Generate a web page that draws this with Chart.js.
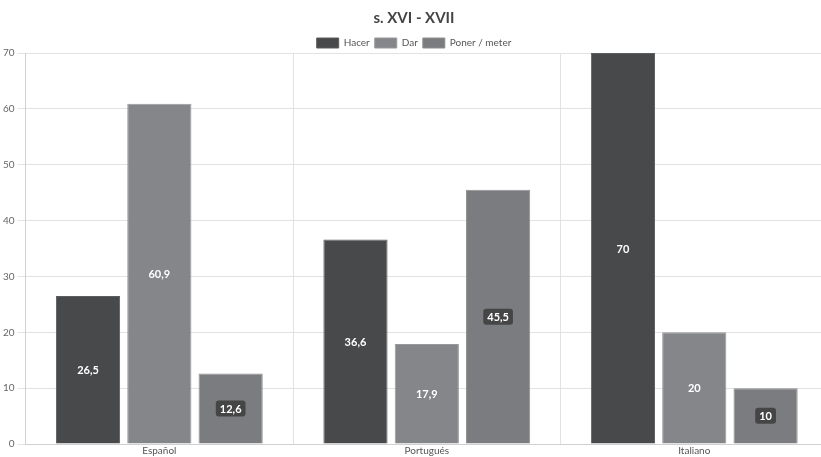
<!DOCTYPE html>
<html>
<head>
<meta charset="utf-8">
<script src="https://cdn.jsdelivr.net/npm/chart.js@4"></script>
<style>
    html, body { margin: 0; padding: 0; background: #fff; overflow: hidden; }
    #wrap { width: 828px; height: 457px; position: relative; }
</style>
</head>
<body>
<div id="wrap"><canvas id="chart"></canvas></div>
<script>
// Chart data
const categories = ['Español', 'Portugués', 'Italiano'];
const hacer = [26.5, 36.6, 70];
const dar = [60.9, 17.9, 20];
const ponerMeter = [12.6, 45.5, 10];
const seriesNames = ['Hacer', 'Dar', 'Poner / meter'];

Chart.defaults.font.family = "Lato, 'Open Sans', sans-serif";
Chart.defaults.color = '#666';

// Tighten the space under the legend
const legendGap = {
    id: 'legendGap',
    beforeInit(chart) {
        const origFit = chart.legend.fit;
        chart.legend.fit = function() {
            origFit.bind(chart.legend)();
            this.height -= 5;
        };
    }
};

// Draws value labels in the middle of each bar (comma decimal)
const barLabels = {
    id: 'barLabels',
    afterDatasetsDraw(chart) {
        const ctx = chart.ctx;
        ctx.save();
        ctx.font = "bold 11px Lato, sans-serif";
        ctx.textAlign = 'center';
        ctx.textBaseline = 'middle';
        chart.data.datasets.forEach((ds, i) => {
            const meta = chart.getDatasetMeta(i);
            meta.data.forEach((bar, j) => {
                const text = String(ds.data[j]).replace('.', ',');
                const y = (bar.y + bar.base) / 2;
                if (ds.labelBox) {
                    const w = ctx.measureText(text).width + 8;
                    const h = 16;
                    ctx.fillStyle = 'rgba(60,60,60,0.85)';
                    ctx.beginPath();
                    ctx.roundRect(bar.x - w / 2, y - h / 2, w, h, 3);
                    ctx.fill();
                }
                ctx.fillStyle = '#fff';
                ctx.fillText(text, bar.x, y + 1);
            });
        });
        ctx.restore();
    }
};

new Chart(document.getElementById('chart'), {
    type: 'bar',
    data: {
        labels: categories,
        datasets: [
            {
                label: seriesNames[0],
                data: hacer,
                backgroundColor: '#48494b',
                borderColor: '#5c5d5f',
                borderWidth: 1
            },
            {
                label: seriesNames[1],
                data: dar,
                backgroundColor: '#858689',
                borderColor: '#97989a',
                borderWidth: 1
            },
            {
                label: seriesNames[2],
                data: ponerMeter,
                backgroundColor: '#7b7c7f',
                borderColor: '#8e8f91',
                borderWidth: 1,
                labelBox: true
            }
        ]
    },
    options: {
        responsive: true,
        maintainAspectRatio: false,
        animation: false,
        layout: { padding: { left: 0, right: 0, top: 0, bottom: 0 } },
        plugins: {
            title: {
                display: true,
                text: 's. XVI - XVII',
                color: '#444',
                font: { size: 15, weight: 'bold' },
                padding: { top: 9, bottom: 6 }
            },
            legend: {
                position: 'top',
                labels: {
                    boxWidth: 22,
                    boxHeight: 10,
                    padding: 5,
                    color: '#555',
                    font: { size: 10 }
                }
            },
            tooltip: { enabled: false }
        },
        scales: {
            y: {
                min: 0,
                max: 70,
                ticks: { stepSize: 10, font: { size: 10 }, color: '#666' },
                grid: { color: '#e2e2e2' },
                border: { color: '#d0d0d0' }
            },
            x: {
                ticks: { font: { size: 10 }, color: '#555', padding: 0 },
                grid: { color: '#e2e2e2', offset: true, tickLength: 1 },
                border: { color: '#d0d0d0' }
            }
        }
    },
    plugins: [legendGap, barLabels]
});
</script>
</body>
</html>
